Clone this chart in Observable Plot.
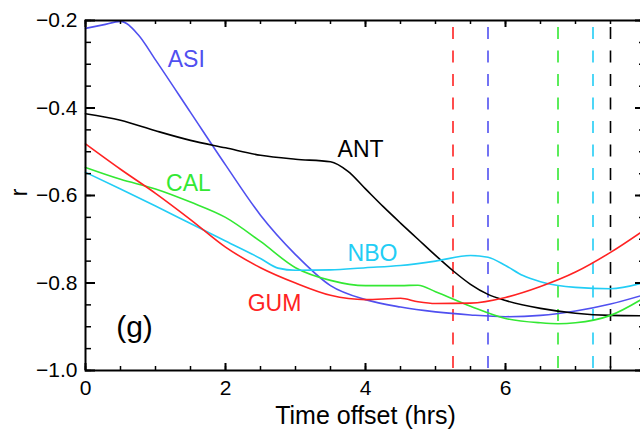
<!DOCTYPE html>
<html>
<head>
<meta charset="utf-8">
<script src="https://cdn.jsdelivr.net/npm/d3@7"></script>
<script src="https://cdn.jsdelivr.net/npm/@observablehq/plot@0.6"></script>
<style>
  html, body { margin: 0; padding: 0; background: #fff; overflow: hidden; width: 640px; height: 438px; }
  #chart { width: 640px; height: 438px; overflow: hidden; }
  #chart svg { max-width: none !important; display: block; }
</style>
</head>
<body>
<div id="chart"></div>
<script>
// Time offsets (hrs) and correlation r for each station
const xASI = [0, 0.25, 0.5, 0.75, 1.0, 1.5, 2.0, 2.5, 3.0, 3.5, 4.0, 4.5, 5.0, 5.5, 6.0, 6.5, 7.0, 7.5, 8.0];
const rASI = [-0.218, -0.21, -0.202, -0.232, -0.29, -0.41, -0.53, -0.645, -0.735, -0.806, -0.838, -0.855, -0.866, -0.873, -0.877, -0.874, -0.864, -0.848, -0.826];

const xANT = [0, 0.5, 1.0, 1.5, 2.0, 2.5, 3.0, 3.5, 3.75, 4.0, 4.25, 4.5, 4.75, 5.0, 5.25, 5.5, 5.75, 6.0, 6.5, 7.0, 7.5, 8.0];
const rANT = [-0.413, -0.428, -0.452, -0.474, -0.491, -0.508, -0.517, -0.523, -0.545, -0.585, -0.625, -0.663, -0.700, -0.737, -0.772, -0.803, -0.826, -0.840, -0.858, -0.869, -0.874, -0.875];

const xCAL = [0, 0.5, 1.0, 1.5, 2.0, 2.5, 3.0, 3.5, 4.0, 4.5, 4.75, 5.0, 5.5, 6.0, 6.5, 6.75, 7.0, 7.5, 8.0];
const rCAL = [-0.536, -0.563, -0.585, -0.615, -0.65, -0.705, -0.765, -0.794, -0.806, -0.806, -0.805, -0.82, -0.853, -0.881, -0.891, -0.893, -0.891, -0.874, -0.832];

const xNBO = [0, 0.5, 1.0, 1.5, 2.0, 2.5, 2.75, 3.0, 3.5, 4.0, 4.5, 5.0, 5.5, 5.75, 6.0, 6.25, 6.5, 7.0, 7.5, 8.0];
const rNBO = [-0.547, -0.585, -0.624, -0.664, -0.704, -0.744, -0.766, -0.771, -0.77, -0.765, -0.76, -0.75, -0.737, -0.741, -0.76, -0.783, -0.797, -0.81, -0.813, -0.798];

const xGUM = [0, 0.5, 1.0, 1.5, 2.0, 2.5, 3.0, 3.5, 4.0, 4.5, 4.75, 5.0, 5.5, 6.0, 6.5, 7.0, 7.5, 8.0];
const rGUM = [-0.482, -0.54, -0.595, -0.655, -0.718, -0.765, -0.8, -0.828, -0.838, -0.835, -0.843, -0.847, -0.846, -0.833, -0.808, -0.775, -0.73, -0.677];

// Station names and colours
const stations = ["ASI", "ANT", "CAL", "NBO", "GUM"];
const colors = {ASI: "#5050f0", ANT: "#000000", CAL: "#33e833", NBO: "#22cdf5", GUM: "#ff2222"};

// Dashed vertical markers (time of best correlation)
const markerStation = ["GUM", "ASI", "CAL", "NBO", "ANT"];
const markerX = [5.25, 5.75, 6.75, 7.25, 7.5];

// Label anchor positions (data units)
const labelX = {ASI: 1.44, ANT: 3.93, CAL: 1.47, NBO: 4.1, GUM: 2.7};
const labelR = {ASI: -0.289, ANT: -0.495, CAL: -0.573, NBO: -0.733, GUM: -0.847};

// Axis ticks
const xMajor = [0, 2, 4, 6, 8];
const xMinor = d3.range(0, 8.01, 0.5);
const yMajor = [-1.0, -0.8, -0.6, -0.4, -0.2];
const yMinor = d3.range(-1.0, -0.199, 0.05);

const series = {ASI: [xASI, rASI], ANT: [xANT, rANT], CAL: [xCAL, rCAL], NBO: [xNBO, rNBO], GUM: [xGUM, rGUM]};
const table = stations.flatMap(s => series[s][0].map((x, i) => ({station: s, x, r: series[s][1][i]})));
const markers = markerX.map((x, i) => ({station: markerStation[i], x}));
const labels = stations.map(s => ({station: s, x: labelX[s], r: labelR[s]}));

const font = "'Liberation Sans', Arial, Helvetica, sans-serif";

const W = 660, H = 438, ML = 85, MR = 15, MT = 20, MB = 68;
const innerW = W - ML - MR, innerH = H - MT - MB;

const plot = Plot.plot({
  width: W,
  height: H,
  marginLeft: ML,
  marginRight: MR,
  marginTop: MT,
  marginBottom: MB,
  style: {fontFamily: font, background: "#fff", color: "#000", maxWidth: "none"},
  x: {domain: [0, 8], axis: null},
  y: {domain: [-1.0, -0.2], axis: null},
  marks: [
    Plot.ruleX(markers, {x: "x", stroke: d => colors[d.station], strokeWidth: 1.6, strokeDasharray: "12,11.5", strokeDashoffset: 16.5}),
    Plot.line(table, {x: "x", y: "r", z: "station", stroke: d => colors[d.station], strokeWidth: 1.6, curve: "monotone-x"}),
    Plot.text(labels, {x: "x", y: "r", text: "station", fill: d => colors[d.station], fontSize: 23}),
    Plot.text(["(g)"], {frameAnchor: "bottom-left", textAnchor: "middle", lineAnchor: "middle", dx: 49, dy: -43, fontSize: 30}),
    // inward ticks (left, right, bottom, top)
    Plot.tickY(yMajor, {y: d => d, insetRight: innerW - 10, strokeWidth: 2}),
    Plot.tickY(yMinor, {y: d => d, insetRight: innerW - 6, strokeWidth: 1.5}),
    Plot.tickY(yMajor, {y: d => d, insetLeft: innerW - 10, strokeWidth: 2}),
    Plot.tickY(yMinor, {y: d => d, insetLeft: innerW - 6, strokeWidth: 1.5}),
    Plot.tickX(xMajor, {x: d => d, insetTop: innerH - 7, strokeWidth: 2}),
    Plot.tickX(xMinor, {x: d => d, insetTop: innerH - 4, strokeWidth: 1.5}),
    Plot.tickX(xMajor, {x: d => d, insetBottom: innerH - 7, strokeWidth: 2}),
    Plot.tickX(xMinor, {x: d => d, insetBottom: innerH - 4, strokeWidth: 1.5}),
    // tick labels
    Plot.axisY(yMajor, {anchor: "left", tickSize: 0, tickPadding: 8, tickFormat: d3.format(".1f"), fontSize: 21, label: null}),
    Plot.axisX(xMajor, {anchor: "bottom", tickSize: 0, tickPadding: 10, tickFormat: d3.format("d"), fontSize: 21, label: null}),
    Plot.frame({stroke: "#000", strokeWidth: 2}),
    Plot.text(["Time offset (hrs)"], {frameAnchor: "bottom", textAnchor: "middle", lineAnchor: "middle", dy: 45, fontSize: 25}),
    Plot.text(["r"], {frameAnchor: "left", textAnchor: "middle", lineAnchor: "middle", dx: -66, dy: -3, rotate: -90, fontSize: 23})
  ]
});
document.getElementById("chart").appendChild(plot);
</script>
</body>
</html>
